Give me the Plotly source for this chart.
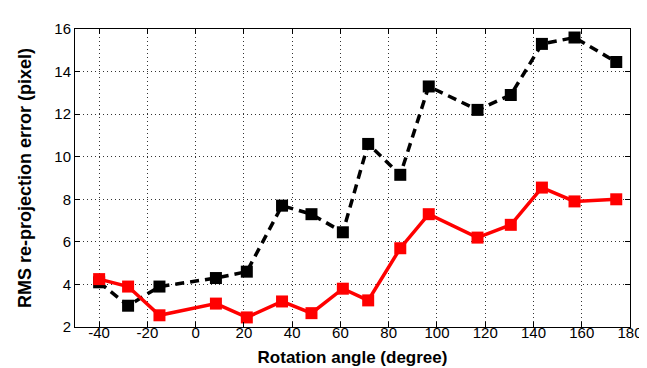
import plotly.graph_objects as go

angles = [-40, -28, -15, 8.4, 21.2, 35.8, 48, 61, 71.5, 84.8, 96.6, 116.8, 130.6, 143.5, 157, 174.3]
black_err = [4.1, 3.0, 3.9, 4.3, 4.6, 7.7, 7.3, 6.45, 10.6, 9.15, 13.3, 12.2, 12.9, 15.3, 15.6, 14.45]
red_err = [4.25, 3.9, 2.55, 3.1, 2.45, 3.2, 2.65, 3.8, 3.25, 5.7, 7.3, 6.2, 6.8, 8.55, 7.9, 8.0]
x_ticks = [-40, -20, 0, 20, 40, 60, 80, 100, 120, 140, 160, 180]
x_labels = ["-40", "-20", "0", "20", "40", "60", "80", "100", "120", "140", "160", "180"]
y_ticks = [2, 4, 6, 8, 10, 12, 14, 16]

FONT = "Liberation Sans, Arial, sans-serif"

fig = go.Figure()
fig.add_trace(go.Scatter(x=angles, y=black_err, mode="lines+markers",
                         line=dict(color="black", width=3.5, dash="9px,6px"),
                         marker=dict(symbol="square", size=12, color="black"),
                         showlegend=False))
fig.add_trace(go.Scatter(x=angles, y=red_err, mode="lines+markers",
                         line=dict(color="#ff0000", width=3.5),
                         marker=dict(symbol="square", size=12, color="#ff0000"),
                         showlegend=False))

axis_common = dict(showline=True, linecolor="black", linewidth=1, mirror="ticks",
                   ticks="inside", ticklen=5, tickcolor="black",
                   showgrid=True, gridcolor="#333333", griddash="1px,3px", gridwidth=1,
                   zeroline=False,
                   tickfont=dict(family=FONT, size=15, color="black"))

fig.update_layout(
    width=647, height=368,
    margin=dict(l=67, r=22, t=18, b=47),
    paper_bgcolor="white", plot_bgcolor="white",
    xaxis=dict(range=[-50, 180], tickvals=x_ticks, ticktext=x_labels,
               ticklabelstandoff=-8,
               title=dict(text="<b>Rotation angle (degree)</b>", standoff=11,
                          font=dict(family=FONT, size=17, color="black")),
               **axis_common),
    yaxis=dict(range=[2, 16], tickvals=y_ticks,
               title=dict(text="<b>RMS re-projection error (pixel)</b>", standoff=18,
                          font=dict(family=FONT, size=18, color="black")),
               **axis_common),
)
fig.write_html("out.html")
